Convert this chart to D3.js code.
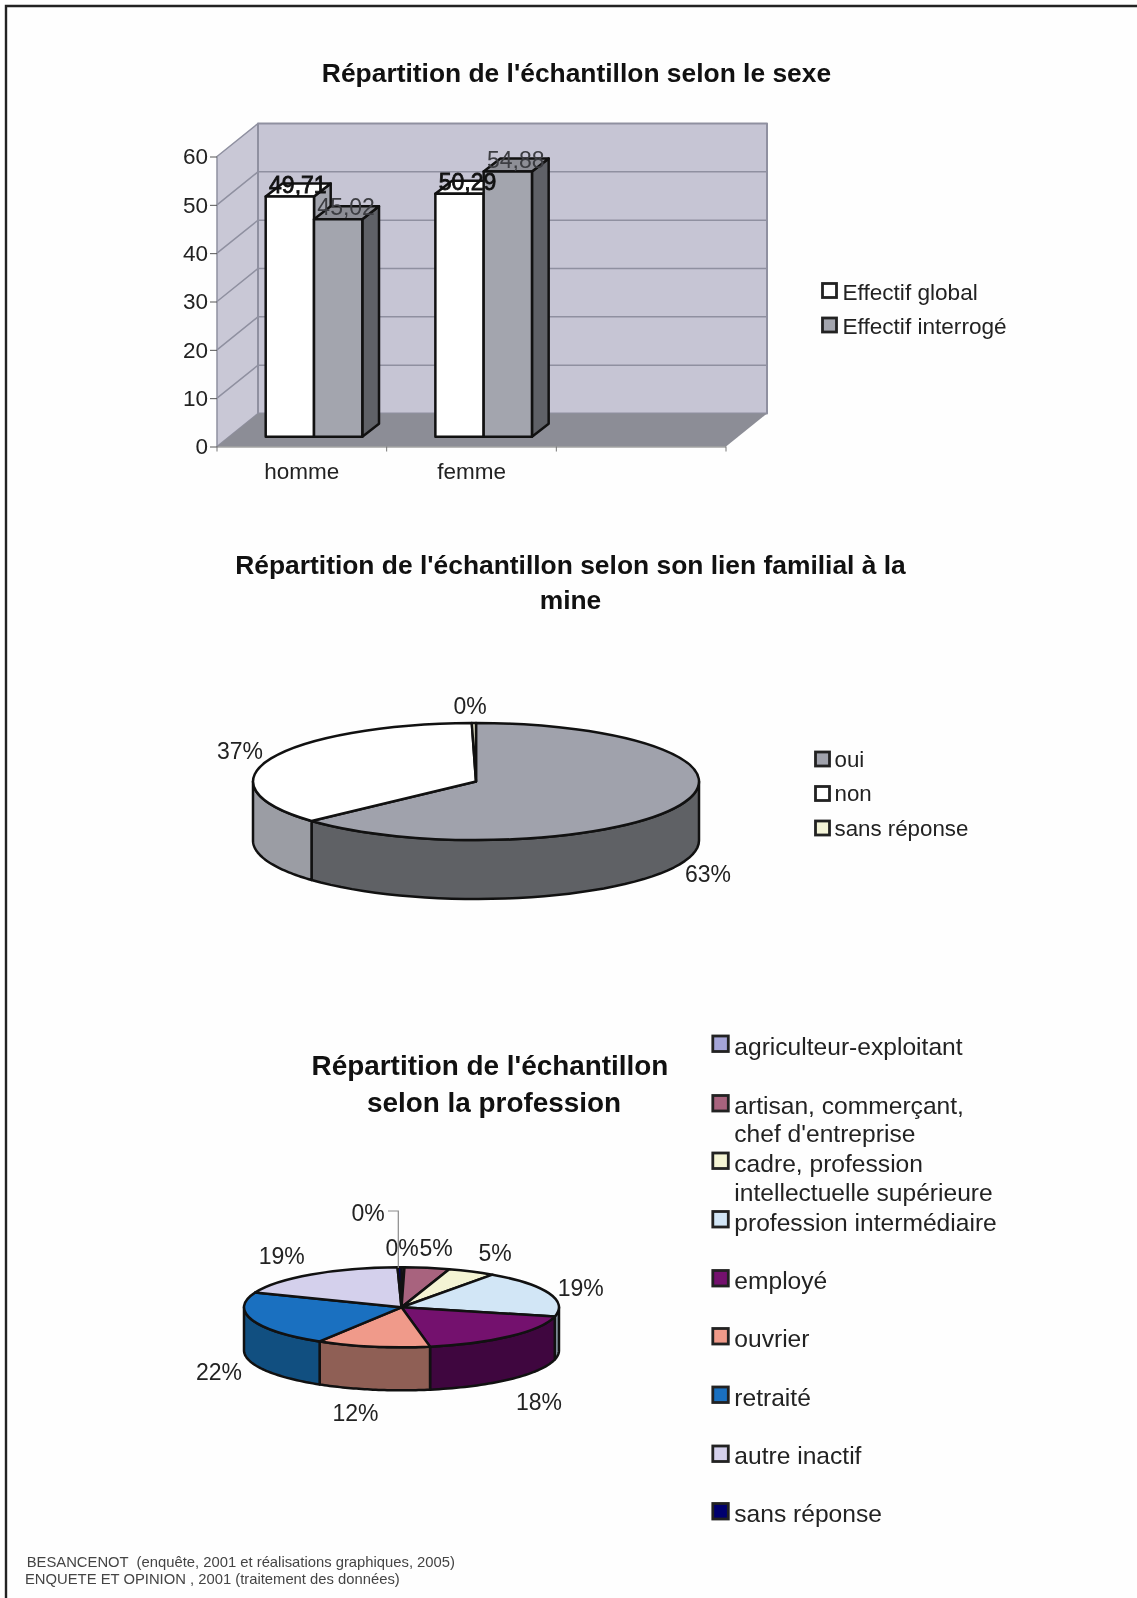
<!DOCTYPE html>
<html>
<head>
<meta charset="utf-8">
<title>Répartition de l'échantillon</title>
<style>
  html, body { margin: 0; padding: 0; background: #fefefe; }
  svg { display: block; filter: blur(0.5px); }
  text { font-family: "Liberation Sans", Arial, sans-serif; fill: #222; }
  .title { font-weight: bold; fill: #111; text-anchor: middle; }
  .lbl { font-size: 23px; }
  .axis path { display: none; }
  .axis text { font-size: 22.5px; fill: #222; font-family: "Liberation Sans", Arial, sans-serif; }
  .axis line { stroke: #555; }
  .sw { stroke: #222; stroke-width: 2.8; }
</style>
</head>
<body>
<div id="chart"></div>
<script src="https://d3js.org/d3.v7.min.js"></script>
<script>
// ---- data ----
var barCategories = ["homme", "femme", ""];
var barSeries = ["Effectif global", "Effectif interrogé"];
var globalValues = [49.71, 50.29];
var interrogeValues = [45.02, 54.88];
var yTicks = [0, 10, 20, 30, 40, 50, 60];

var lienLabels = ["oui", "non", "sans réponse"];
var lienValues = [63.2, 36.5, 0.3];

var profLabels = ["agriculteur-exploitant", "artisan, commerçant, chef d'entreprise",
  "cadre, profession intellectuelle supérieure", "profession intermédiaire", "employé",
  "ouvrier", "retraité", "autre inactif", "sans réponse"];
var profValues = [0.3, 4.6, 4.9, 18.9, 18.4, 11.6, 22.3, 18.6, 0.4];

// colours
var barFront = ["#ffffff", "#a3a5ae"], barSide = ["#a3a5ae", "#5f6167"], barTop = ["#ffffff", "#8d8e96"];
var lienTop = ["#a0a2ac", "#ffffff", "#f4f4d8"], lienSide = ["#5f6165", "#9b9da4", "#7a7a6c"];
var profTop = ["#a5a5d8", "#a8637e", "#f4f4d4", "#d2e6f6", "#74116e", "#f09a8a", "#1a70c0", "#d4d0ec", "#00006e"];
var profSide = ["#55556c", "#54323f", "#7a7a6a", "#7f8c99", "#3f063f", "#8f5f55", "#114f80", "#6a6876", "#000037"];

var W = 1137, H = 1598;
var EDGE = 2.5;
var svg = d3.select("#chart").append("svg").attr("width", W).attr("height", H);

svg.append("rect").attr("width", W).attr("height", H).attr("fill", "#fefefe");
// page frame (runs off the right and bottom)
svg.append("path").attr("d", "M6,1598V6H1137").attr("fill", "none").attr("stroke", "#222").attr("stroke-width", 2.4);

function title(lines, xs, ys, size) {
  lines.forEach(function (t, i) {
    svg.append("text").attr("class", "title").attr("x", xs[i]).attr("y", ys[i]).style("font-size", size + "px").text(t);
  });
}

// ---- bar chart ----
var wallDx = 41, wallDy = -33;   // depth of the walls
var barDx = 16.7, barDy = -13;   // depth of a bar
var frontX = 12, frontY = -9.7;  // bars stand a bit in from the axis plane

var x = d3.scaleBand().domain(barCategories).range([217, 726]);
var y = d3.scaleLinear().domain([0, 60]).range([446.5, 156.5]);

var bars = svg.append("g");
function poly(g, pts, fill, stroke, sw) {
  return g.append("path").attr("d", "M" + pts.join("L") + "Z").attr("fill", fill)
    .attr("stroke", stroke || "none").attr("stroke-width", sw || 0).attr("stroke-linejoin", "round");
}
var y0 = y(0), y60 = y(60), xL = x.range()[0], xR = x.range()[1];
poly(bars, [[xL, y0], [xL, y60], [xL + wallDx, y60 + wallDy], [xL + wallDx, y0 + wallDy]], "#c9c8d6", "#8f90a0", 1.5);
poly(bars, [[xL + wallDx, y60 + wallDy], [xR + wallDx, y60 + wallDy], [xR + wallDx, y0 + wallDy], [xL + wallDx, y0 + wallDy]], "#c6c5d4", "#8f90a0", 2);
poly(bars, [[xL, y0], [xL + wallDx, y0 + wallDy], [xR + wallDx, y0 + wallDy], [xR, y0]], "#8c8d96");

yTicks.slice(1, -1).forEach(function (t) {
  bars.append("path").attr("fill", "none").attr("stroke", "#8f90a0").attr("stroke-width", 1.5)
    .attr("d", "M" + xL + "," + y(t) + "L" + (xL + wallDx) + "," + (y(t) + wallDy) + "H" + (xR + wallDx));
});

svg.append("g").attr("class", "axis").attr("transform", "translate(" + xL + ",0)")
  .call(d3.axisLeft(y).tickValues(yTicks).tickSize(7).tickPadding(2))
  .call(function (g) { g.selectAll("line").attr("stroke", "#666"); });
svg.append("g").attr("class", "axis").attr("transform", "translate(0," + y0 + ")")
  .call(d3.axisBottom(x).tickSize(0).tickPadding(17));
svg.append("path").attr("fill", "none").attr("stroke", "#777").attr("stroke-width", 1.2)
  .attr("d", "M" + xL + "," + (y0 + 0.5) + "H" + xR);
x.domain().concat("end").forEach(function (c) {
  var px = c === "end" ? xR : x(c);
  svg.append("line").attr("x1", px).attr("x2", px).attr("y1", y0).attr("y2", y0 + 5).attr("stroke", "#777");
});

var inner = d3.scaleBand().domain(barSeries).range([0, 96.6]);
var barRows = [globalValues, interrogeValues];
var labelsLater = [];
barCategories.slice(0, 2).forEach(function (cat, ci) {
  barSeries.forEach(function (s, si) {
    var v = barRows[si][ci];
    var x0 = x(cat) + 36.7 + frontX + inner(s), x1 = x0 + inner.bandwidth();
    var top = y(v) + frontY, base = y(0) + frontY;
    var g = bars.append("g");
    poly(g, [[x1, base], [x1 + barDx, base + barDy], [x1 + barDx, top + barDy], [x1, top]], barSide[si], "#111", EDGE);
    poly(g, [[x0, top], [x0 + barDx, top + barDy], [x1 + barDx, top + barDy], [x1, top]], barTop[si], "#111", EDGE);
    poly(g, [[x0, base], [x0, top], [x1, top], [x1, base]], barFront[si], "#111", EDGE);
    labelsLater.push({ x: (x0 + x1) / 2 + 8, y: top - 4, v: v, si: si });
  });
});
labelsLater.forEach(function (d) {
  var t = svg.append("text").attr("class", "lbl").attr("x", d.x).attr("y", d.y).attr("text-anchor", "middle")
    .text(d3.format(".2f")(d.v).replace(".", ","));
  if (d.si === 0) t.style("fill", "#111").attr("stroke", "#111").attr("stroke-width", 0.8);
  else t.style("fill", "#3c3d42");
});

// legends
function legend(labels, fills, boxX, textX, boxY, rows, size, box) {
  labels.forEach(function (lab, i) {
    svg.append("rect").attr("class", "sw").attr("x", boxX).attr("y", boxY[i]).attr("width", box).attr("height", box).attr("fill", fills[i]);
    rows[i].forEach(function (r) {
      svg.append("text").attr("x", textX).attr("y", r[1]).style("font-size", size + "px").text(r[0]);
    });
  });
}
legend(barSeries, barFront, 822.5, 842.5, [283.5, 318],
  [[["Effectif global", 300]], [["Effectif interrogé", 333.5]]], 22.6, 14);

// ---- 3D pies ----
function pie3d(values, tops, sides, cx, cy, rx, ry, depth) {
  var g = svg.append("g");
  var arcs = d3.pie().sort(null).startAngle(0).endAngle(2 * Math.PI)(values);
  var px = function (a) { return cx + rx * Math.sin(a); };
  var py = function (a, dz) { return cy - ry * Math.cos(a) + dz; };
  var line = d3.line();

  // side walls, only the front half shows
  arcs.forEach(function (d, i) {
    var a0 = Math.max(d.startAngle, Math.PI / 2), a1 = Math.min(d.endAngle, 3 * Math.PI / 2);
    if (a1 <= a0) return;
    var steps = d3.range(0, 41).map(function (k) { return a0 + (a1 - a0) * k / 40; });
    var pts = steps.map(function (a) { return [px(a), py(a, 0)]; })
      .concat(steps.slice().reverse().map(function (a) { return [px(a), py(a, depth)]; }));
    g.append("path").attr("fill", sides[i]).attr("stroke", "#111").attr("stroke-width", EDGE)
      .attr("stroke-linejoin", "round").attr("d", line(pts) + "Z");
  });

  // top surface: a circle squashed in y
  var arc = d3.arc().innerRadius(0).outerRadius(rx);
  g.append("g").attr("transform", "translate(" + cx + "," + cy + ") scale(1," + (ry / rx) + ")")
    .selectAll("path").data(arcs).enter().append("path")
    .attr("d", arc).attr("fill", function (d, i) { return tops[i]; })
    .attr("stroke", "#111").attr("stroke-width", EDGE).attr("stroke-linejoin", "round")
    .attr("vector-effect", "non-scaling-stroke");
  return arcs;
}
function pctLabels(values, spots) {
  values.forEach(function (v, i) {
    svg.append("text").attr("class", "lbl").attr("x", spots[i][0]).attr("y", spots[i][1])
      .attr("text-anchor", "middle").text(Math.round(v) + "%");
  });
}

pie3d(lienValues, lienTop, lienSide, 476, 781.5, 223, 58.5, 59);
pctLabels(lienValues, [[708, 882], [240, 758.5], [470, 713.5]]);
legend(lienLabels, lienTop, 815.5, 834.5, [752, 786.5, 821],
  [[["oui", 766.5]], [["non", 801]], [["sans réponse", 835.5]]], 22.3, 14);

pie3d(profValues, profTop, profSide, 401.5, 1307.3, 157.5, 40, 43);
pctLabels(profValues, [[402, 1255.5], [436, 1255.5], [495, 1260.5], [580.7, 1296], [539, 1409.5],
  [355.5, 1420.5], [219, 1379.5], [281.7, 1263.5], [368, 1220.5]]);
svg.append("path").attr("fill", "none").attr("stroke", "#8a8a8a").attr("stroke-width", 1.2)
  .attr("d", "M388,1211H398.3V1268");
legend(profLabels, profTop, 712.8, 734.3,
  [1036, 1095.5, 1153, 1211.5, 1270.5, 1328.5, 1387, 1446, 1503.5],
  [[["agriculteur-exploitant", 1054.5]],
   [["artisan, commerçant,", 1113.8], ["chef d'entreprise", 1141.5]],
   [["cadre, profession", 1172], ["intellectuelle supérieure", 1200.5]],
   [["profession intermédiaire", 1230.5]],
   [["employé", 1288.5]], [["ouvrier", 1347]], [["retraité", 1405.5]],
   [["autre inactif", 1463.5]], [["sans réponse", 1522]]], 24.6, 15.5);

// ---- titles and source ----
title(["Répartition de l'échantillon selon le sexe"], [576.5], [82], 26.4);
title(["Répartition de l'échantillon selon son lien familial à la", "mine"], [570.5, 570.5], [574, 608.5], 26.4);
title(["Répartition de l'échantillon", "selon la profession"], [490, 494], [1075, 1111.5], 27.9);

svg.append("text").attr("x", 26.7).attr("y", 1566.7).style("font-size", "14.8px").style("fill", "#444")
  .style("white-space", "pre").text("BESANCENOT  (enquête, 2001 et réalisations graphiques, 2005)");
svg.append("text").attr("x", 25).attr("y", 1584).style("font-size", "14.8px").style("fill", "#444")
  .text("ENQUETE ET OPINION , 2001 (traitement des données)");
</script>
</body>
</html>
